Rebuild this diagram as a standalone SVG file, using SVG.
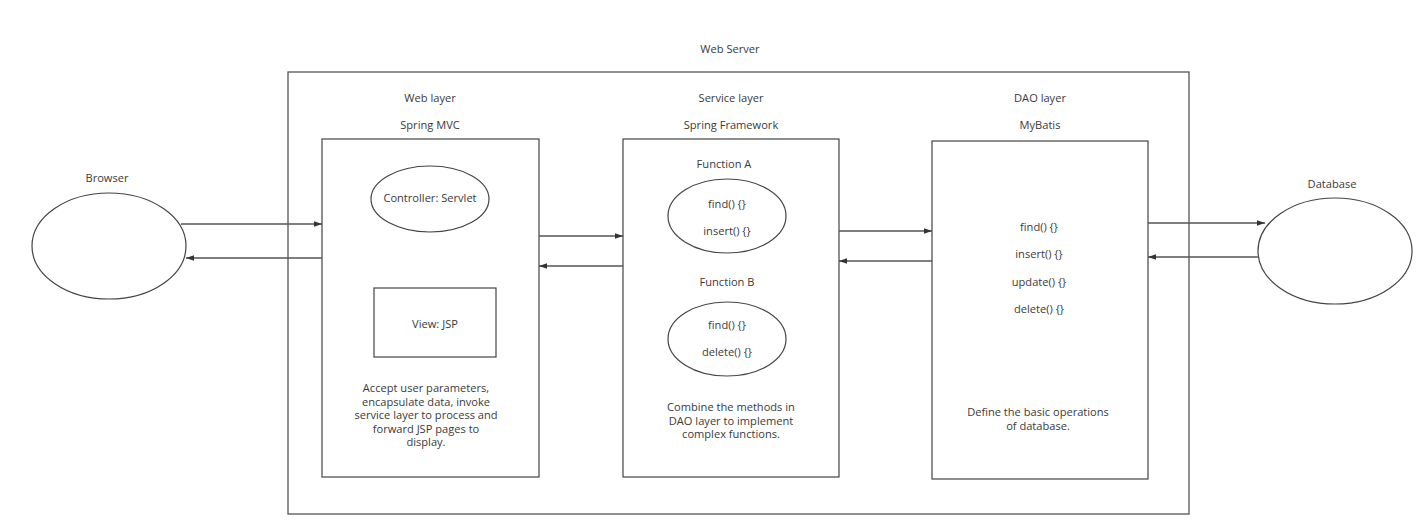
<svg xmlns="http://www.w3.org/2000/svg" width="1426" height="523" viewBox="0 0 1426 523">
<style>
.box{fill:none;stroke:#555;stroke-width:1.3}
.sh{fill:#fff;stroke:#444;stroke-width:1.2}
.t{font-family:"Open Sans","Noto Sans",sans-serif;font-size:11.1px;fill:#3a3a3a;text-anchor:middle}
.c{stroke:#555;stroke-width:1.3;fill:none;marker-end:url(#ah)}
</style>
<defs>
<marker id="ah" viewBox="0 0 10 10" refX="10" refY="5" markerWidth="8" markerHeight="8" markerUnits="userSpaceOnUse" orient="auto">
<path d="M0,1.5 L10,5 L0,8.5 z" fill="#333"/>
</marker>
</defs>
<rect width="1426" height="523" fill="#fff"/>
<g id="webserver">
<rect class="box" x="288" y="72" width="901" height="442"/>
<text class="t" x="730" y="53">Web Server</text>
</g>
<g id="browser">
<text class="t" x="107" y="182">Browser</text>
<ellipse class="sh" cx="109" cy="246" rx="77" ry="53"/>
</g>
<g id="database">
<text class="t" x="1332" y="188">Database</text>
<ellipse class="sh" cx="1335" cy="251" rx="77" ry="53"/>
</g>
<g id="weblayer">
<text class="t" x="430" y="102">Web layer</text>
<text class="t" x="430" y="129">Spring MVC</text>
<rect class="sh" x="322" y="139" width="217" height="338"/>
<g id="controller">
<ellipse class="sh" cx="430" cy="199" rx="59" ry="33"/>
<text class="t" x="430" y="202">Controller: Servlet</text>
</g>
<g id="view">
<rect class="sh" x="374" y="288" width="122" height="69"/>
<text class="t" x="435" y="328">View: JSP</text>
</g>
<text class="t" x="426" y="392">Accept user parameters,</text>
<text class="t" x="426" y="405.5">encapsulate data, invoke</text>
<text class="t" x="426" y="419">service layer to process and</text>
<text class="t" x="426" y="432.5">forward JSP pages to</text>
<text class="t" x="426" y="446">display.</text>
</g>
<g id="servicelayer">
<text class="t" x="731" y="102">Service layer</text>
<text class="t" x="731" y="129">Spring Framework</text>
<rect class="sh" x="623" y="139" width="216" height="338"/>
<text class="t" x="724" y="168">Function A</text>
<g id="functionA">
<ellipse class="sh" cx="727" cy="216" rx="59" ry="37"/>
<text class="t" x="727" y="208">find() {}</text>
<text class="t" x="727" y="235">insert() {}</text>
</g>
<text class="t" x="727" y="286">Function B</text>
<g id="functionB">
<ellipse class="sh" cx="727" cy="339" rx="59" ry="37"/>
<text class="t" x="727" y="329">find() {}</text>
<text class="t" x="727" y="356">delete() {}</text>
</g>
<text class="t" x="731" y="411">Combine the methods in</text>
<text class="t" x="731" y="424.5">DAO layer to implement</text>
<text class="t" x="731" y="438">complex functions.</text>
</g>
<g id="daolayer">
<text class="t" x="1040" y="102">DAO layer</text>
<text class="t" x="1040" y="129">MyBatis</text>
<rect class="sh" x="932" y="141" width="216" height="338"/>
<text class="t" x="1039" y="231">find() {}</text>
<text class="t" x="1039" y="258">insert() {}</text>
<text class="t" x="1039" y="286">update() {}</text>
<text class="t" x="1039" y="313">delete() {}</text>
<text class="t" x="1038" y="416">Define the basic operations</text>
<text class="t" x="1038" y="429.5">of database.</text>
</g>
<g id="connectors">
<line class="c" x1="181" y1="224" x2="322" y2="224"/>
<line class="c" x1="322" y1="258" x2="186" y2="258"/>
<line class="c" x1="539" y1="236" x2="623" y2="236"/>
<line class="c" x1="623" y1="266" x2="539" y2="266"/>
<line class="c" x1="839" y1="231" x2="932" y2="231"/>
<line class="c" x1="932" y1="261" x2="839" y2="261"/>
<line class="c" x1="1148" y1="223" x2="1265" y2="223"/>
<line class="c" x1="1259" y1="257" x2="1148" y2="257"/>
</g>
</svg>
